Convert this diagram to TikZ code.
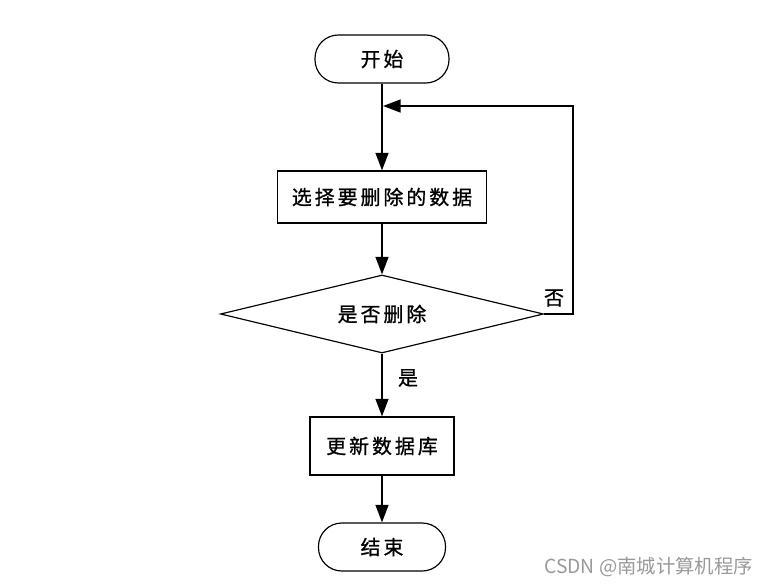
\documentclass[tikz,border=0pt]{standalone}
\usepackage{fontspec}
\setmainfont{Noto Sans CJK SC}
\newfontfamily\cjkwide[LetterSpace=15,FakeBold=1]{Noto Sans CJK SC}
\usetikzlibrary{arrows.meta,shapes.geometric}

\tikzset{
  terminal/.style={draw, line width=1pt, rounded corners=0.7cm, minimum width=4.02cm, minimum height=1.44cm, font=\cjkwide\fontsize{17pt}{17pt}\selectfont},
  process/.style={draw, line width=1pt, font=\cjkwide\fontsize{17pt}{17pt}\selectfont},
  decision/.style={draw, diamond, aspect=4.14, line width=1pt, minimum width=9.69cm, minimum height=2.34cm, inner sep=0pt, font=\cjkwide\fontsize{17pt}{17pt}\selectfont},
  flow/.style={line width=1.4pt, -{Triangle[length=15pt,width=11pt]}},
  answer/.style={font=\cjkwide\fontsize{17pt}{17pt}\selectfont},
}

\begin{document}
\begin{tikzpicture}[x=0.03cm, y=-0.03cm]
			%%%%% START %%%%%
			\useasboundingbox (0,0) rectangle (773,585);
			
			\node[terminal] (start) at (382, 59) {开始};
			\node[process, minimum width=6.27cm, minimum height=1.56cm] (select) at (382, 197) {选择要删除的数据};
			\node[decision] (ask) at (382, 314) {是否删除};
			\node[process, minimum width=4.32cm, minimum height=1.74cm] (update) at (382, 446) {更新数据库};
			\node[terminal, minimum width=3.81cm] (stop) at (382, 547) {结束};
			
			\coordinate (merge) at (383, 106);
			\coordinate (corner) at (573, 314);
			
			\draw[flow] (start) -- (select);
			\draw[flow] (select) -- (ask);
			\draw[flow] (ask) -- (update);
			\draw[flow] (update) -- (stop);
			\draw[flow] (ask.east) -- (corner) |- (merge);
			
			\node[answer] (yes) at (408, 378) {是};
			\node[answer] (no) at (554, 298) {否};
			
			\node[anchor=east, text=black!40, font=\fontsize{16.5pt}{16.5pt}\selectfont] (mark) at (757, 567) {CSDN @南城计算机程序};
			
			%%%%% END %%%%%
		\end{tikzpicture}
\end{document}
